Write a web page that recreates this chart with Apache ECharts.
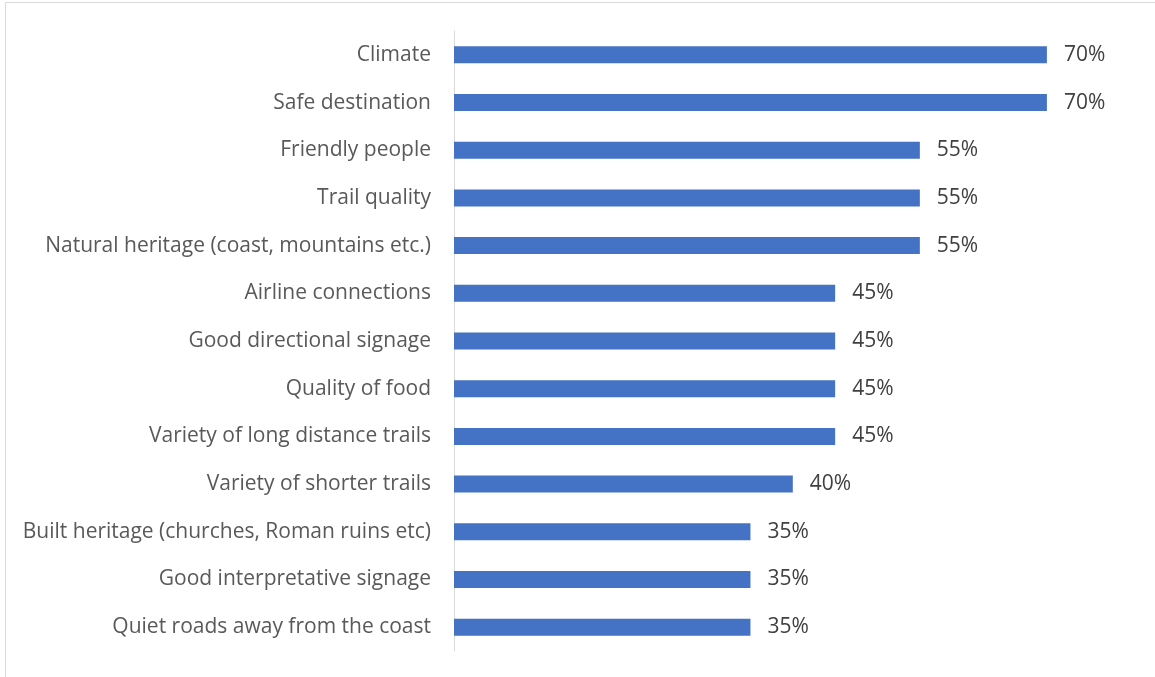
<!DOCTYPE html>
<html>
<head>
<meta charset="utf-8">
<script src="https://cdn.jsdelivr.net/npm/echarts@6/dist/echarts.min.js"></script>
<style>
html,body{margin:0;padding:0;background:#fff;}
#chart{width:1155px;height:677px;}
</style>
</head>
<body>
<div id="chart"></div>
<script>
const categories = [
  "Climate",
  "Safe destination",
  "Friendly people",
  "Trail quality",
  "Natural heritage (coast, mountains etc.)",
  "Airline connections",
  "Good directional signage",
  "Quality of food",
  "Variety of long distance trails",
  "Variety of shorter trails",
  "Built heritage (churches, Roman ruins etc)",
  "Good interpretative signage",
  "Quiet roads away from the coast"
];
const values = [70, 70, 55, 55, 55, 45, 45, 45, 45, 40, 35, 35, 35];

const chart = echarts.init(document.getElementById('chart'), null, {renderer: 'canvas'});
const FONT = '"Open Sans", "Liberation Sans", sans-serif';
chart.setOption({
  animation: false,
  backgroundColor: '#fff',
  graphic: [{
    type: 'rect',
    shape: {x: 5.5, y: 2.5, width: 1200, height: 700},
    style: {fill: 'none', stroke: '#d9d9d9', lineWidth: 1},
    silent: true
  }],
  grid: {left: 454, top: 31, width: 677.6, height: 620, containLabel: false},
  xAxis: {
    type: 'value', min: 0, max: 80, show: false
  },
  yAxis: {
    type: 'category',
    data: categories,
    inverse: true,
    axisLine: {show: true, lineStyle: {color: '#d9d9d9', width: 1}},
    axisTick: {show: false},
    axisLabel: {color: '#595959', fontSize: 21, fontFamily: FONT, margin: 23, padding: [4, 0, 0, 0]}
  },
  series: [{
    type: 'bar',
    data: values,
    barWidth: 17,
    itemStyle: {color: '#4472C4'},
    label: {
      show: true, position: 'right', distance: 17,
      formatter: p => p.value + '%',
      color: '#404040', fontSize: 21, fontFamily: FONT, padding: [4, 0, 0, 0]
    }
  }]
});
</script>
</body>
</html>
